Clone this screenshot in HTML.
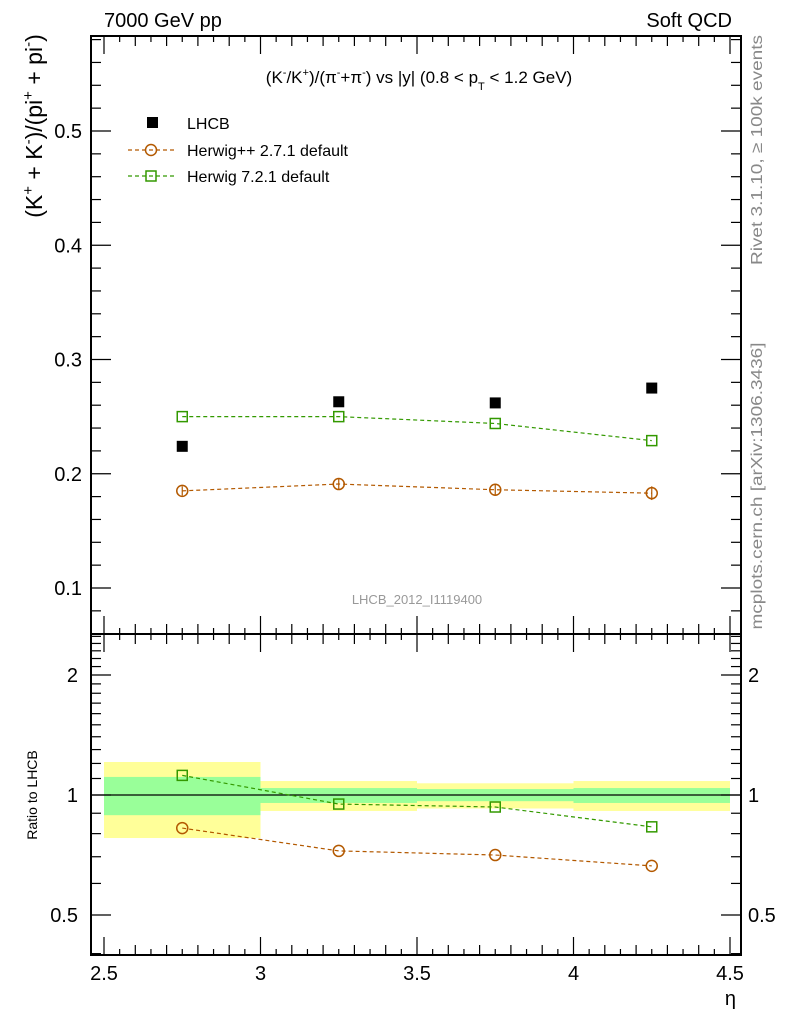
<!DOCTYPE html>
<html><head><meta charset="utf-8"><style>
html,body{margin:0;padding:0;background:#fff;}
svg{display:block;font-family:"Liberation Sans",sans-serif;}
</style></head><body>
<svg id="c" width="786" height="1024" viewBox="0 0 786 1024" xmlns="http://www.w3.org/2000/svg">
<text x="104" y="27" font-size="20">7000 GeV pp</text>
<text x="732" y="27" font-size="20" text-anchor="end">Soft QCD</text>
<text x="419" y="83" font-size="17" text-anchor="middle">(K<tspan dy="-7" font-size="11">-</tspan><tspan dy="7">/K</tspan><tspan dy="-7" font-size="11">+</tspan><tspan dy="7">)/(π</tspan><tspan dy="-7" font-size="11">-</tspan><tspan dy="7">+π</tspan><tspan dy="-7" font-size="11">-</tspan><tspan dy="7">) vs |y| (0.8 &lt; p</tspan><tspan dy="7" font-size="11">T</tspan><tspan dy="-7"> &lt; 1.2 GeV)</tspan></text>
<text transform="translate(42,126) rotate(-90)" font-size="23" text-anchor="middle">(K<tspan dy="-9" font-size="15">+</tspan><tspan dy="9"> + K</tspan><tspan dy="-9" font-size="15">-</tspan><tspan dy="9">)/(pi</tspan><tspan dy="-9" font-size="15">+</tspan><tspan dy="9"> + pi</tspan><tspan dy="-9" font-size="15">-</tspan><tspan dy="9">)</tspan></text>
<text transform="translate(37,795) rotate(-90)" font-size="14" text-anchor="middle">Ratio to LHCB</text>
<text x="736" y="1005" font-size="20" text-anchor="end">η</text>
<text transform="translate(762,150) rotate(-90)" font-size="16" fill="#888" text-anchor="middle" textLength="230" lengthAdjust="spacingAndGlyphs">Rivet 3.1.10, ≥ 100k events</text>
<text transform="translate(762,486) rotate(-90)" font-size="16" fill="#888" text-anchor="middle" textLength="287" lengthAdjust="spacingAndGlyphs">mcplots.cern.ch [arXiv:1306.3436]</text>
<text x="417" y="604" font-size="13" fill="#999" text-anchor="middle">LHCB_2012_I1119400</text>
<g>
<rect x="147" y="117" width="11" height="11" fill="#000"/>
<text x="187" y="129" font-size="16">LHCB</text>
<line x1="128" y1="150" x2="175" y2="150" stroke="#b35900" stroke-width="1.2" stroke-dasharray="4,3"/>
<circle cx="151" cy="150" r="5.5" fill="none" stroke="#b35900" stroke-width="1.5"/>
<text x="187" y="156" font-size="16">Herwig++ 2.7.1 default</text>
<line x1="128" y1="176" x2="175" y2="176" stroke="#339900" stroke-width="1.2" stroke-dasharray="4,3"/>
<rect x="146" y="171" width="10" height="10" fill="none" stroke="#339900" stroke-width="1.5"/>
<text x="187" y="182" font-size="16">Herwig 7.2.1 default</text>
</g>
</svg>
<script>
const binEdges=[2.5,3.0,3.5,4.0,4.5];
const binCenters=[2.75,3.25,3.75,4.25];
const lhcb=[0.224,0.263,0.262,0.275];
const herwigpp=[0.185,0.191,0.186,0.183];
const herwigppErr=[0.004,0.005,0.005,0.006];
const herwig7=[0.250,0.250,0.244,0.229];
const ratioHpp=[0.826,0.724,0.707,0.664];
const ratioH7=[1.12,0.949,0.933,0.832];
const bandYellowHi=[1.21,1.084,1.07,1.084];
const bandYellowLo=[0.78,0.912,0.925,0.912];
const bandGreenHi=[1.11,1.041,1.035,1.041];
const bandGreenLo=[0.89,0.955,0.965,0.955];
const yTicks=[0.1,0.2,0.3,0.4,0.5];
const xTicks=[2.5,3,3.5,4,4.5];
const rTicks=[0.5,1,2];

const NS="http://www.w3.org/2000/svg";
const svg=document.getElementById('c');
const L=91,R=741,T=36,M=634,B=955;
const X=v=>104+(v-2.5)*313;
const Y=v=>131-(v-0.5)*1142.5;
const RY=v=>795-Math.log10(v)*398.6;
function mk(tag,a,parent){const e=document.createElementNS(NS,tag);for(const k in a)e.setAttribute(k,a[k]);(parent||svg).appendChild(e);return e;}
function line(x1,y1,x2,y2,w){return mk('line',{x1,y1,x2,y2,stroke:'#000','stroke-width':w||1.5});}

for(let i=0;i<4;i++){
 const b=mk('rect',{x:X(binEdges[i]),y:RY(bandYellowHi[i]),width:X(binEdges[i+1])-X(binEdges[i]),height:RY(bandYellowLo[i])-RY(bandYellowHi[i]),fill:'#ffff99'});
 
 
 const g=mk('rect',{x:X(binEdges[i]),y:RY(bandGreenHi[i]),width:X(binEdges[i+1])-X(binEdges[i]),height:RY(bandGreenLo[i])-RY(bandGreenHi[i]),fill:'#99ff99'});
 
 
}
line(L,RY(1),R,RY(1),1.2);

const f1=mk('rect',{x:L,y:T,width:R-L,height:M-T,fill:'none',stroke:'#000','stroke-width':2});


const f2=mk('rect',{x:L,y:M,width:R-L,height:B-M,fill:'none',stroke:'#000','stroke-width':2});



for(let k=0;k<=40;k++){
 const v=2.5+k*0.05, x=X(v);
 const len=(k%10===0)?18:(k%2===0?10:6);
 [[M,-1],[T,1],[B,-1],[M,1]].forEach(([y0,d])=>line(x,y0,x,y0+d*len,1.2));
}
xTicks.forEach(v=>{const t=mk('text',{x:X(v),y:980,'font-size':20,'text-anchor':'middle'});t.textContent=v;
 
 });

for(let k=3;k<=29;k++){
 const v=k*0.02,y=Y(v); if(y<T||y>M)continue;
 const len=(k%5===0)?20:10;
 line(L,y,L+len,y,1.2); line(R,y,R-len,y,1.2);
}
yTicks.forEach(v=>{const t=mk('text',{x:82,y:Y(v)+7,'font-size':20,'text-anchor':'end'});t.textContent=v;
 
 });

const minor=[0.4,0.5,0.6,0.7,0.8,0.9,1,1.1,1.2,1.3,1.4,1.5,1.6,1.7,1.8,1.9,2,2.1,2.2,2.3,2.4,2.5];
minor.forEach(v=>{const y=RY(v); if(y<M||y>B)return; const len=rTicks.includes(v)?20:10;
 line(L,y,L+len,y,1.2); line(R,y,R-len,y,1.2);});
rTicks.forEach(v=>{
 const t=mk('text',{x:78,y:RY(v)+7,'font-size':20,'text-anchor':'end'});t.textContent=v;
 
 
 const t2=mk('text',{x:748,y:RY(v)+7,'font-size':20});t2.textContent=v;
 
 
});

function series(vals,fy,color,shape,name,errs){
 const pts=binCenters.map((c,i)=>X(c)+','+fy(vals[i])).join(' ');
 const pl=mk('polyline',{points:pts,fill:'none',stroke:color,'stroke-width':1.2,'stroke-dasharray':'4,3'});
 
 
 binCenters.forEach((c,i)=>{
  const x=X(c),y=fy(vals[i]);
  if(errs){line(x,fy(vals[i]+errs[i]),x,fy(vals[i]-errs[i]),1.2).setAttribute('stroke',color);}
  let m;
  if(shape==='circle') m=mk('circle',{cx:x,cy:y,r:5.5,fill:'none',stroke:color,'stroke-width':1.5});
  else m=mk('rect',{x:x-5,y:y-5,width:10,height:10,fill:'none',stroke:color,'stroke-width':1.5});
  
  
 });
}
series(herwigpp,Y,'#b35900','circle','herwigpp',herwigppErr);
series(herwig7,Y,'#339900','square','herwig7');
series(ratioHpp,RY,'#b35900','circle','ratio-herwigpp');
series(ratioH7,RY,'#339900','square','ratio-herwig7');
binCenters.forEach((c,i)=>{
 const m=mk('rect',{x:X(c)-5.5,y:Y(lhcb[i])-5.5,width:11,height:11,fill:'#000'});
 
 
});
</script>
</body></html>
